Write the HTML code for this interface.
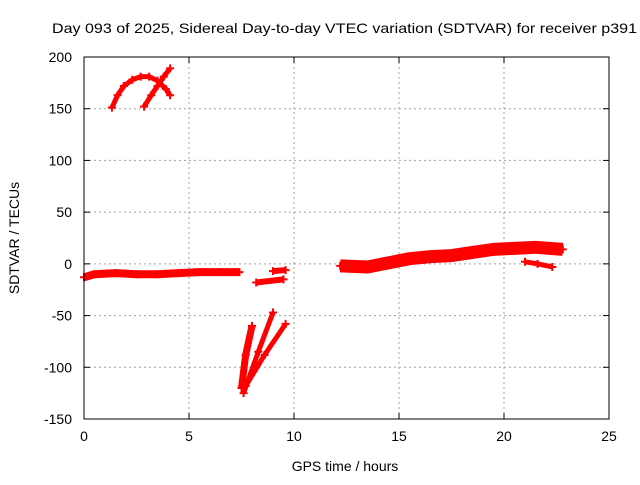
<!DOCTYPE html>
<html><head><meta charset="utf-8"><style>
body{margin:0;background:#fff}
text{font-family:"Liberation Sans",sans-serif;font-size:14px;fill:#000}
</style></head><body>
<svg id="chart" width="640" height="480" xmlns="http://www.w3.org/2000/svg">
<text x="52" y="33" textLength="585" lengthAdjust="spacingAndGlyphs" font-size="15">Day 093 of 2025, Sidereal Day-to-day VTEC variation (SDTVAR) for receiver p391</text>
<text x="345" y="471" text-anchor="middle">GPS time / hours</text>
<text transform="translate(19,238) rotate(-90)" text-anchor="middle">SDTVAR / TECUs</text>
<g id="grid"></g><g id="marks"></g><g id="axes"></g>
</svg>
<script>
const xTicks=[0,5,10,15,20,25];
const yTicks=[200,150,100,50,0,-50,-100,-150];
const arcT=[1.33,1.6,1.9,2.3,2.7,3.1,3.5,3.9,4.1];
const arcV=[151,163,172,178,181,181,177,169,163];
const riseT=[2.86,3.2,3.5,3.8,4.1];
const riseV=[152,163,172,181,189];
const bandT=[0,0.5,1.5,2.5,3.5,4.5,5.5,6.5,7.4];
const bandV=[-13,-10,-9,-10,-10,-9,-8,-8,-8];
const lowT=[8.2,9.5];const lowV=[-18,-15];
const shortT=[9.0,9.6];const shortV=[-7,-6];
const sp1T=[7.5,7.7,8.0];const sp1V=[-120,-88,-60];
const sp2T=[7.6,8.3,9.0];const sp2V=[-125,-85,-47];
const sp3T=[7.7,8.6,9.6];const sp3V=[-118,-88,-58];
const rT=[12.2,13.5,14.5,15.5,16.5,17.5,18.5,19.5,20.5,21.5,22.8];
const rV=[-2,-3,1,5,7,8,11,14,15,16,14];
const r2T=[21,21.6,22.3];const r2V=[2,0,-3];
const X0=84,X1=609,Y0=57,Y1=419;
const sx=t=>X0+(t-0)/25*(X1-X0);
const sy=v=>Y0+(200-v)/350*(Y1-Y0);
const NS="http://www.w3.org/2000/svg";
const grid=document.getElementById('grid'),axes=document.getElementById('axes'),marks=document.getElementById('marks');
function mk(tag,attrs,p){const e=document.createElementNS(NS,tag);for(const k in attrs)e.setAttribute(k,attrs[k]);p.appendChild(e);return e;}
xTicks.forEach(t=>{
 const x=sx(t);
 if(t>0&&t<25){const g=mk('line',{x1:x,x2:x,y1:Y0,y2:Y1,stroke:'#a0a0a0','stroke-dasharray':'2,3'},grid);
 
 }
 mk('line',{x1:x,x2:x,y1:Y1,y2:Y1-6,stroke:'#000'},axes);
 mk('line',{x1:x,x2:x,y1:Y0,y2:Y0+6,stroke:'#000'},axes);
 const l=mk('text',{x:x,y:Y1+22,'text-anchor':'middle'},axes);l.textContent=t;
 
 
});
yTicks.forEach(v=>{
 const y=sy(v);
 if(v<200&&v>-150){const g=mk('line',{x1:X0,x2:X1,y1:y,y2:y,stroke:'#a0a0a0','stroke-dasharray':'2,3'},grid);
 
 }
 mk('line',{x1:X0,x2:X0+6,y1:y,y2:y,stroke:'#000'},axes);
 mk('line',{x1:X1,x2:X1-6,y1:y,y2:y,stroke:'#000'},axes);
 const l=mk('text',{x:X0-12,y:y+5,'text-anchor':'end'},axes);l.textContent=v;
 
 
});
const frame=mk('rect',{x:X0,y:Y0,width:X1-X0,height:Y1-Y0,fill:'none',stroke:'#000'},axes);


const series=[[arcT,arcV,5],[riseT,riseV,5],[bandT,bandV,8],[lowT,lowV,6],[shortT,shortV,6],[sp1T,sp1V,7],[sp2T,sp2V,5],[sp3T,sp3V,5],[rT,rV,13],[r2T,r2V,5]];
series.forEach(([T,V,w])=>{
 const pts=T.map((t,i)=>sx(t)+','+sy(V[i])).join(' ');
 const pl=mk('polyline',{points:pts,fill:'none',stroke:'#f00','stroke-width':w,'stroke-linejoin':'round'},marks);
 
 
 T.forEach((t,i)=>{const x=sx(t),y=sy(V[i]);
  const p=mk('path',{d:`M${x-4},${y}h8M${x},${y-4}v8`,stroke:'#f00','stroke-width':2},marks);
  
  
 });
});
</script>
</body></html>
